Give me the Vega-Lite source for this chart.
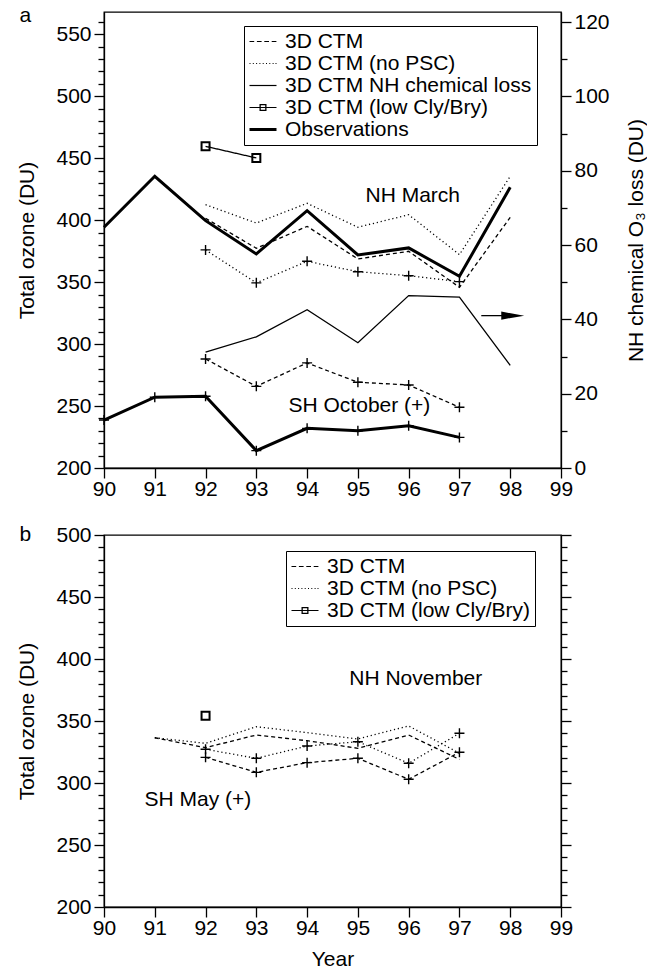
{
  "$schema": "https://vega.github.io/schema/vega-lite/v6.json",
  "padding": {"left": 16, "top": 4, "right": 0, "bottom": 0},
  "spacing": 23,
  "config": {
    "font": "Liberation Sans",
    "view": {"stroke": "black", "strokeWidth": 1.3},
    "axis": {"domainColor": "black", "domainWidth": 1.3, "tickColor": "black", "tickWidth": 1.3, "labelColor": "black", "labelFont": "Liberation Sans", "labelFontSize": 21, "titleFont": "Liberation Sans", "titleFontSize": 21, "titleFontWeight": "normal", "titleColor": "black", "grid": false, "labelPadding": 3, "tickSize": 10, "labelOverlap": false, "labelFlush": false},
    "legend": {"labelFont": "Liberation Sans", "labelFontSize": 21, "labelColor": "black", "labelLimit": 600, "strokeColor": "black", "fillColor": "white", "padding": 5, "rowPadding": 0, "labelOffset": 15, "symbolOpacity": 1, "symbolFillColor": "black", "symbolStrokeWidth": 0, "symbolSize": 400},
    "text": {"font": "Liberation Sans", "fontSize": 21, "color": "black"}
  },
  "datasets": {
    "topL": [
      {"year": 90, "value": 394.3, "series": "Observations", "region": "NH"},
      {"year": 91, "value": 435.4, "series": "Observations", "region": "NH"},
      {"year": 92, "value": 399.6, "series": "Observations", "region": "NH"},
      {"year": 93, "value": 372.7, "series": "Observations", "region": "NH"},
      {"year": 94, "value": 407.7, "series": "Observations", "region": "NH"},
      {"year": 95, "value": 371.9, "series": "Observations", "region": "NH"},
      {"year": 96, "value": 377.6, "series": "Observations", "region": "NH"},
      {"year": 97, "value": 354.7, "series": "Observations", "region": "NH"},
      {"year": 98, "value": 426.5, "series": "Observations", "region": "NH"},
      {"year": 92, "value": 401.5, "series": "3D CTM", "region": "NH"},
      {"year": 93, "value": 377.3, "series": "3D CTM", "region": "NH"},
      {"year": 94, "value": 395.0, "series": "3D CTM", "region": "NH"},
      {"year": 95, "value": 368.7, "series": "3D CTM", "region": "NH"},
      {"year": 96, "value": 374.9, "series": "3D CTM", "region": "NH"},
      {"year": 97, "value": 345.8, "series": "3D CTM", "region": "NH"},
      {"year": 98, "value": 402.3, "series": "3D CTM", "region": "NH"},
      {"year": 92, "value": 412.5, "series": "3D CTM (no PSC)", "region": "NH"},
      {"year": 93, "value": 397.7, "series": "3D CTM (no PSC)", "region": "NH"},
      {"year": 94, "value": 413.6, "series": "3D CTM (no PSC)", "region": "NH"},
      {"year": 95, "value": 394.3, "series": "3D CTM (no PSC)", "region": "NH"},
      {"year": 96, "value": 404.4, "series": "3D CTM (no PSC)", "region": "NH"},
      {"year": 97, "value": 372.2, "series": "3D CTM (no PSC)", "region": "NH"},
      {"year": 98, "value": 435.4, "series": "3D CTM (no PSC)", "region": "NH"},
      {"year": 92, "value": 459.6, "series": "3D CTM (low Cly/Bry)", "region": "NH"},
      {"year": 93, "value": 450.2, "series": "3D CTM (low Cly/Bry)", "region": "NH"},
      {"year": 90, "value": 238.7, "series": "Observations", "region": "SH"},
      {"year": 91, "value": 257.1, "series": "Observations", "region": "SH"},
      {"year": 92, "value": 257.9, "series": "Observations", "region": "SH"},
      {"year": 93, "value": 214.0, "series": "Observations", "region": "SH"},
      {"year": 94, "value": 232.0, "series": "Observations", "region": "SH"},
      {"year": 95, "value": 230.1, "series": "Observations", "region": "SH"},
      {"year": 96, "value": 234.1, "series": "Observations", "region": "SH"},
      {"year": 97, "value": 224.7, "series": "Observations", "region": "SH"},
      {"year": 92, "value": 288.0, "series": "3D CTM", "region": "SH"},
      {"year": 93, "value": 265.9, "series": "3D CTM", "region": "SH"},
      {"year": 94, "value": 284.8, "series": "3D CTM", "region": "SH"},
      {"year": 95, "value": 269.2, "series": "3D CTM", "region": "SH"},
      {"year": 96, "value": 267.0, "series": "3D CTM", "region": "SH"},
      {"year": 97, "value": 249.0, "series": "3D CTM", "region": "SH"},
      {"year": 92, "value": 376.0, "series": "3D CTM (no PSC)", "region": "SH"},
      {"year": 93, "value": 349.4, "series": "3D CTM (no PSC)", "region": "SH"},
      {"year": 94, "value": 366.8, "series": "3D CTM (no PSC)", "region": "SH"},
      {"year": 95, "value": 358.4, "series": "3D CTM (no PSC)", "region": "SH"},
      {"year": 96, "value": 355.2, "series": "3D CTM (no PSC)", "region": "SH"},
      {"year": 97, "value": 350.4, "series": "3D CTM (no PSC)", "region": "SH"}
    ],
    "topR": [
      {"year": 92, "loss": 31.2},
      {"year": 93, "loss": 35.3},
      {"year": 94, "loss": 42.6},
      {"year": 95, "loss": 33.7},
      {"year": 96, "loss": 46.4},
      {"year": 97, "loss": 46.0},
      {"year": 98, "loss": 27.6}
    ],
    "bottom": [
      {"year": 91, "value": 336.5, "series": "3D CTM (no PSC)", "region": "NH"},
      {"year": 92, "value": 332.0, "series": "3D CTM (no PSC)", "region": "NH"},
      {"year": 93, "value": 345.4, "series": "3D CTM (no PSC)", "region": "NH"},
      {"year": 94, "value": 340.6, "series": "3D CTM (no PSC)", "region": "NH"},
      {"year": 95, "value": 335.5, "series": "3D CTM (no PSC)", "region": "NH"},
      {"year": 96, "value": 346.0, "series": "3D CTM (no PSC)", "region": "NH"},
      {"year": 97, "value": 324.0, "series": "3D CTM (no PSC)", "region": "NH"},
      {"year": 91, "value": 336.5, "series": "3D CTM", "region": "NH"},
      {"year": 92, "value": 328.5, "series": "3D CTM", "region": "NH"},
      {"year": 93, "value": 338.7, "series": "3D CTM", "region": "NH"},
      {"year": 94, "value": 334.1, "series": "3D CTM", "region": "NH"},
      {"year": 95, "value": 328.0, "series": "3D CTM", "region": "NH"},
      {"year": 96, "value": 338.7, "series": "3D CTM", "region": "NH"},
      {"year": 97, "value": 319.0, "series": "3D CTM", "region": "NH"},
      {"year": 92, "value": 327.2, "series": "3D CTM (no PSC)", "region": "SH"},
      {"year": 93, "value": 319.9, "series": "3D CTM (no PSC)", "region": "SH"},
      {"year": 94, "value": 329.8, "series": "3D CTM (no PSC)", "region": "SH"},
      {"year": 95, "value": 333.3, "series": "3D CTM (no PSC)", "region": "SH"},
      {"year": 96, "value": 315.9, "series": "3D CTM (no PSC)", "region": "SH"},
      {"year": 97, "value": 340.1, "series": "3D CTM (no PSC)", "region": "SH"},
      {"year": 92, "value": 320.7, "series": "3D CTM", "region": "SH"},
      {"year": 93, "value": 308.6, "series": "3D CTM", "region": "SH"},
      {"year": 94, "value": 316.4, "series": "3D CTM", "region": "SH"},
      {"year": 95, "value": 319.9, "series": "3D CTM", "region": "SH"},
      {"year": 96, "value": 303.0, "series": "3D CTM", "region": "SH"},
      {"year": 97, "value": 324.8, "series": "3D CTM", "region": "SH"},
      {"year": 92, "value": 354.3, "series": "3D CTM (low Cly/Bry)", "region": "NH"}
    ]
  },
  "resolve": {"scale": {"shape": "independent", "strokeDash": "independent"}, "legend": {"shape": "independent"}},
  "vconcat": [
    {
      "width": 457,
      "height": 456,
      "resolve": {"scale": {"y": "independent"}},
      "layer": [
        {
          "layer": [
            {
              "data": {"name": "topL"},
              "encoding": {
                "x": {"field": "year", "type": "quantitative", "scale": {"domain": [90, 99], "nice": false, "zero": false}, "axis": {"values": [90, 91, 92, 93, 94, 95, 96, 97, 98, 99], "title": null, "tickSize": 10, "labelPadding": 0, "format": "d"}},
                "y": {"field": "value", "type": "quantitative", "scale": {"domain": [200, 568], "nice": false, "zero": false}, "axis": {"values": [200, 210, 220, 230, 240, 250, 260, 270, 280, 290, 300, 310, 320, 330, 340, 350, 360, 370, 380, 390, 400, 410, 420, 430, 440, 450, 460, 470, 480, 490, 500, 510, 520, 530, 540, 550, 560], "labelExpr": "datum.value % 50 === 0 ? datum.label : ''", "tickSize": {"condition": {"test": "datum.value % 50 === 0", "value": 10}, "value": 6}, "title": "Total ozone (DU)", "titlePadding": 18}}
              },
              "layer": [
                {
                  "mark": {"type": "point", "filled": true, "opacity": 0, "color": "black"},
                  "encoding": {
                    "shape": {
                      "field": "series", "type": "nominal",
                      "scale": {
                        "domain": ["3D CTM", "3D CTM (no PSC)", "3D CTM NH chemical loss", "3D CTM (low Cly/Bry)", "Observations"],
                        "range": [
                          "M-1,-0.06H-0.53V0.06H-1ZM-0.26,-0.06H0.21V0.06H-0.26ZM0.48,-0.06H0.95V0.06H0.48ZM1.22,-0.06H1.69V0.06H1.22Z",
                          "M-1,-0.06h0.1v0.12h-0.1ZM-0.67,-0.06h0.1v0.12h-0.1ZM-0.34,-0.06h0.1v0.12h-0.1ZM-0.01,-0.06h0.1v0.12h-0.1ZM0.32,-0.06h0.1v0.12h-0.1ZM0.65,-0.06h0.1v0.12h-0.1ZM0.98,-0.06h0.1v0.12h-0.1ZM1.31,-0.06h0.1v0.12h-0.1ZM1.6,-0.06h0.1v0.12h-0.1Z",
                          "M-1,-0.06H1.7V0.06H-1Z",
                          "M-1,-0.06H1.7V0.06H-1ZM0,-0.35H0.7V0.35H0ZM0.13,-0.22V0.22H0.57V-0.22Z",
                          "M-1,-0.15H1.7V0.15H-1Z"
                        ]
                      },
                      "legend": {"title": null, "orient": "none", "legendX": 140, "legendY": 14}
                    }
                  }
                },
                {
                  "transform": [{"filter": "datum.series !== 'Observations'"}],
                  "mark": {"type": "line", "color": "black", "strokeWidth": 1.3},
                  "encoding": {
                    "detail": {"field": "region"},
                    "strokeDash": {"field": "series", "type": "nominal", "scale": {"domain": ["3D CTM", "3D CTM (no PSC)", "3D CTM (low Cly/Bry)"], "range": [[4, 3], [1.2, 2.8], [1, 0]]}, "legend": null}
                  }
                },
                {
                  "transform": [{"filter": "datum.series === 'Observations'"}],
                  "mark": {"type": "line", "color": "black", "strokeWidth": 3},
                  "encoding": {"detail": {"field": "region"}}
                },
                {
                  "transform": [{"filter": "datum.region === 'SH'"}],
                  "mark": {"type": "point", "shape": "M-1,0H1M0,-1V1", "filled": false, "color": "black", "opacity": 1, "size": 100, "strokeWidth": 1.4}
                },
                {
                  "transform": [{"filter": "datum.series === '3D CTM (low Cly/Bry)'"}],
                  "mark": {"type": "point", "shape": "square", "filled": false, "color": "black", "opacity": 1, "size": 64, "strokeWidth": 2}
                }
              ]
            },
            {
              "data": {"values": [{}]},
              "mark": {"type": "text", "text": "NH March", "fontSize": 21},
              "encoding": {
                "x": {"datum": 96.08, "type": "quantitative", "scale": {"domain": [90, 99], "nice": false, "zero": false}, "axis": {"values": [90, 91, 92, 93, 94, 95, 96, 97, 98, 99], "title": null, "tickSize": 10, "labelPadding": 0, "format": "d"}},
                "y": {"datum": 419.3, "type": "quantitative", "scale": {"domain": [200, 568], "nice": false, "zero": false}, "axis": {"values": [200, 210, 220, 230, 240, 250, 260, 270, 280, 290, 300, 310, 320, 330, 340, 350, 360, 370, 380, 390, 400, 410, 420, 430, 440, 450, 460, 470, 480, 490, 500, 510, 520, 530, 540, 550, 560], "labelExpr": "datum.value % 50 === 0 ? datum.label : ''", "tickSize": {"condition": {"test": "datum.value % 50 === 0", "value": 10}, "value": 6}, "title": "Total ozone (DU)", "titlePadding": 18}}
              }
            },
            {
              "data": {"values": [{}]},
              "mark": {"type": "text", "text": "SH October (+)", "fontSize": 21},
              "encoding": {
                "x": {"datum": 95.03, "type": "quantitative", "scale": {"domain": [90, 99], "nice": false, "zero": false}, "axis": {"values": [90, 91, 92, 93, 94, 95, 96, 97, 98, 99], "title": null, "tickSize": 10, "labelPadding": 0, "format": "d"}},
                "y": {"datum": 250.3, "type": "quantitative", "scale": {"domain": [200, 568], "nice": false, "zero": false}, "axis": {"values": [200, 210, 220, 230, 240, 250, 260, 270, 280, 290, 300, 310, 320, 330, 340, 350, 360, 370, 380, 390, 400, 410, 420, 430, 440, 450, 460, 470, 480, 490, 500, 510, 520, 530, 540, 550, 560], "labelExpr": "datum.value % 50 === 0 ? datum.label : ''", "tickSize": {"condition": {"test": "datum.value % 50 === 0", "value": 10}, "value": 6}, "title": "Total ozone (DU)", "titlePadding": 18}}
              }
            },
            {
              "data": {"values": [{}]},
              "mark": {"type": "text", "text": "a", "fontSize": 21},
              "encoding": {
                "x": {"datum": 88.45, "type": "quantitative", "scale": {"domain": [90, 99], "nice": false, "zero": false}, "axis": {"values": [90, 91, 92, 93, 94, 95, 96, 97, 98, 99], "title": null, "tickSize": 10, "labelPadding": 0, "format": "d"}},
                "y": {"datum": 565, "type": "quantitative", "scale": {"domain": [200, 568], "nice": false, "zero": false}, "axis": {"values": [200, 210, 220, 230, 240, 250, 260, 270, 280, 290, 300, 310, 320, 330, 340, 350, 360, 370, 380, 390, 400, 410, 420, 430, 440, 450, 460, 470, 480, 490, 500, 510, 520, 530, 540, 550, 560], "labelExpr": "datum.value % 50 === 0 ? datum.label : ''", "tickSize": {"condition": {"test": "datum.value % 50 === 0", "value": 10}, "value": 6}, "title": "Total ozone (DU)", "titlePadding": 18}}
              }
            }
          ]
        },
        {
          "layer": [
            {
              "data": {"name": "topR"},
              "mark": {"type": "line", "color": "black", "strokeWidth": 1.3},
              "encoding": {
                "x": {"field": "year", "type": "quantitative", "scale": {"domain": [90, 99], "nice": false, "zero": false}, "axis": {"values": [90, 91, 92, 93, 94, 95, 96, 97, 98, 99], "title": null, "tickSize": 10, "labelPadding": 0, "format": "d"}},
                "y": {"field": "loss", "type": "quantitative", "scale": {"domain": [0, 122.7], "nice": false, "zero": false}, "axis": {"orient": "right", "values": [0, 10, 20, 30, 40, 50, 60, 70, 80, 90, 100, 110, 120], "labelExpr": "datum.value % 20 === 0 ? datum.label : ''", "tickSize": {"condition": {"test": "datum.value % 20 === 0", "value": 10}, "value": 6}, "title": "NH chemical O₃ loss (DU)", "titleAngle": 270, "titleBaseline": "top", "titlePadding": 16}}
              }
            },
            {
              "data": {"values": [{}]},
              "mark": {"type": "rule", "color": "black", "strokeWidth": 1.3},
              "encoding": {
                "x": {"datum": 97.43, "type": "quantitative", "scale": {"domain": [90, 99], "nice": false, "zero": false}, "axis": {"values": [90, 91, 92, 93, 94, 95, 96, 97, 98, 99], "title": null, "tickSize": 10, "labelPadding": 0, "format": "d"}},
                "x2": {"datum": 98.0},
                "y": {"datum": 41, "type": "quantitative", "scale": {"domain": [0, 122.7], "nice": false, "zero": false}, "axis": {"orient": "right", "values": [0, 10, 20, 30, 40, 50, 60, 70, 80, 90, 100, 110, 120], "labelExpr": "datum.value % 20 === 0 ? datum.label : ''", "tickSize": {"condition": {"test": "datum.value % 20 === 0", "value": 10}, "value": 6}, "title": "NH chemical O₃ loss (DU)", "titleAngle": 270, "titleBaseline": "top", "titlePadding": 16}}
              }
            },
            {
              "data": {"values": [{}]},
              "mark": {"type": "point", "shape": "M-1,-0.35L1,0L-1,0.35Z", "filled": true, "color": "black", "opacity": 1, "size": 529},
              "encoding": {
                "x": {"datum": 98.05, "type": "quantitative", "scale": {"domain": [90, 99], "nice": false, "zero": false}, "axis": {"values": [90, 91, 92, 93, 94, 95, 96, 97, 98, 99], "title": null, "tickSize": 10, "labelPadding": 0, "format": "d"}},
                "y": {"datum": 41, "type": "quantitative", "scale": {"domain": [0, 122.7], "nice": false, "zero": false}, "axis": {"orient": "right", "values": [0, 10, 20, 30, 40, 50, 60, 70, 80, 90, 100, 110, 120], "labelExpr": "datum.value % 20 === 0 ? datum.label : ''", "tickSize": {"condition": {"test": "datum.value % 20 === 0", "value": 10}, "value": 6}, "title": "NH chemical O₃ loss (DU)", "titleAngle": 270, "titleBaseline": "top", "titlePadding": 16}}
              }
            }
          ]
        }
      ]
    },
    {
      "width": 457,
      "height": 372,
      "resolve": {"scale": {"y": "independent"}},
      "layer": [
        {
          "layer": [
            {
              "data": {"name": "bottom"},
              "encoding": {
                "x": {"field": "year", "type": "quantitative", "scale": {"domain": [90, 99], "nice": false, "zero": false}, "axis": {"values": [90, 91, 92, 93, 94, 95, 96, 97, 98, 99], "title": "Year", "tickSize": 10, "labelPadding": 0, "format": "d", "titlePadding": 10}},
                "y": {"field": "value", "type": "quantitative", "scale": {"domain": [200, 500], "nice": false, "zero": false}, "axis": {"values": [200, 210, 220, 230, 240, 250, 260, 270, 280, 290, 300, 310, 320, 330, 340, 350, 360, 370, 380, 390, 400, 410, 420, 430, 440, 450, 460, 470, 480, 490, 500], "labelExpr": "datum.value % 50 === 0 ? datum.label : ''", "tickSize": {"condition": {"test": "datum.value % 50 === 0", "value": 10}, "value": 6}, "title": "Total ozone (DU)", "titlePadding": 18}}
              },
              "layer": [
                {
                  "mark": {"type": "point", "filled": true, "opacity": 0, "color": "black"},
                  "encoding": {
                    "shape": {
                      "field": "series", "type": "nominal",
                      "scale": {
                        "domain": ["3D CTM", "3D CTM (no PSC)", "3D CTM (low Cly/Bry)"],
                        "range": [
                          "M-1,-0.06H-0.53V0.06H-1ZM-0.26,-0.06H0.21V0.06H-0.26ZM0.48,-0.06H0.95V0.06H0.48ZM1.22,-0.06H1.69V0.06H1.22Z",
                          "M-1,-0.06h0.1v0.12h-0.1ZM-0.67,-0.06h0.1v0.12h-0.1ZM-0.34,-0.06h0.1v0.12h-0.1ZM-0.01,-0.06h0.1v0.12h-0.1ZM0.32,-0.06h0.1v0.12h-0.1ZM0.65,-0.06h0.1v0.12h-0.1ZM0.98,-0.06h0.1v0.12h-0.1ZM1.31,-0.06h0.1v0.12h-0.1ZM1.6,-0.06h0.1v0.12h-0.1Z",
                          "M-1,-0.06H1.7V0.06H-1ZM0,-0.35H0.7V0.35H0ZM0.13,-0.22V0.22H0.57V-0.22Z"
                        ]
                      },
                      "legend": {"title": null, "orient": "none", "legendX": 182, "legendY": 16}
                    }
                  }
                },
                {
                  "transform": [{"filter": "datum.series !== '3D CTM (low Cly/Bry)'"}],
                  "mark": {"type": "line", "color": "black", "strokeWidth": 1.3},
                  "encoding": {
                    "detail": {"field": "region"},
                    "strokeDash": {"field": "series", "type": "nominal", "scale": {"domain": ["3D CTM", "3D CTM (no PSC)"], "range": [[4, 3], [1.2, 2.8]]}, "legend": null}
                  }
                },
                {
                  "transform": [{"filter": "datum.region === 'SH'"}],
                  "mark": {"type": "point", "shape": "M-1,0H1M0,-1V1", "filled": false, "color": "black", "opacity": 1, "size": 100, "strokeWidth": 1.4}
                },
                {
                  "transform": [{"filter": "datum.series === '3D CTM (low Cly/Bry)'"}],
                  "mark": {"type": "point", "shape": "square", "filled": false, "color": "black", "opacity": 1, "size": 64, "strokeWidth": 2}
                }
              ]
            },
            {
              "data": {"values": [{}]},
              "mark": {"type": "text", "text": "NH November", "fontSize": 21},
              "encoding": {
                "x": {"datum": 96.14, "type": "quantitative", "scale": {"domain": [90, 99], "nice": false, "zero": false}, "axis": {"values": [90, 91, 92, 93, 94, 95, 96, 97, 98, 99], "title": "Year", "tickSize": 10, "labelPadding": 0, "format": "d", "titlePadding": 10}},
                "y": {"datum": 383.6, "type": "quantitative", "scale": {"domain": [200, 500], "nice": false, "zero": false}, "axis": {"values": [200, 210, 220, 230, 240, 250, 260, 270, 280, 290, 300, 310, 320, 330, 340, 350, 360, 370, 380, 390, 400, 410, 420, 430, 440, 450, 460, 470, 480, 490, 500], "labelExpr": "datum.value % 50 === 0 ? datum.label : ''", "tickSize": {"condition": {"test": "datum.value % 50 === 0", "value": 10}, "value": 6}, "title": "Total ozone (DU)", "titlePadding": 18}}
              }
            },
            {
              "data": {"values": [{}]},
              "mark": {"type": "text", "text": "SH May (+)", "fontSize": 21},
              "encoding": {
                "x": {"datum": 91.85, "type": "quantitative", "scale": {"domain": [90, 99], "nice": false, "zero": false}, "axis": {"values": [90, 91, 92, 93, 94, 95, 96, 97, 98, 99], "title": "Year", "tickSize": 10, "labelPadding": 0, "format": "d", "titlePadding": 10}},
                "y": {"datum": 286.3, "type": "quantitative", "scale": {"domain": [200, 500], "nice": false, "zero": false}, "axis": {"values": [200, 210, 220, 230, 240, 250, 260, 270, 280, 290, 300, 310, 320, 330, 340, 350, 360, 370, 380, 390, 400, 410, 420, 430, 440, 450, 460, 470, 480, 490, 500], "labelExpr": "datum.value % 50 === 0 ? datum.label : ''", "tickSize": {"condition": {"test": "datum.value % 50 === 0", "value": 10}, "value": 6}, "title": "Total ozone (DU)", "titlePadding": 18}}
              }
            },
            {
              "data": {"values": [{}]},
              "mark": {"type": "text", "text": "b", "fontSize": 21},
              "encoding": {
                "x": {"datum": 88.45, "type": "quantitative", "scale": {"domain": [90, 99], "nice": false, "zero": false}, "axis": {"values": [90, 91, 92, 93, 94, 95, 96, 97, 98, 99], "title": "Year", "tickSize": 10, "labelPadding": 0, "format": "d", "titlePadding": 10}},
                "y": {"datum": 500, "type": "quantitative", "scale": {"domain": [200, 500], "nice": false, "zero": false}, "axis": {"values": [200, 210, 220, 230, 240, 250, 260, 270, 280, 290, 300, 310, 320, 330, 340, 350, 360, 370, 380, 390, 400, 410, 420, 430, 440, 450, 460, 470, 480, 490, 500], "labelExpr": "datum.value % 50 === 0 ? datum.label : ''", "tickSize": {"condition": {"test": "datum.value % 50 === 0", "value": 10}, "value": 6}, "title": "Total ozone (DU)", "titlePadding": 18}}
              }
            }
          ]
        },
        {
          "data": {"name": "bottom"},
          "mark": {"type": "point", "opacity": 0},
          "encoding": {
            "x": {"field": "year", "type": "quantitative", "scale": {"domain": [90, 99], "nice": false, "zero": false}, "axis": {"values": [90, 91, 92, 93, 94, 95, 96, 97, 98, 99], "title": "Year", "tickSize": 10, "labelPadding": 0, "format": "d", "titlePadding": 10}},
            "y": {"field": "value", "type": "quantitative", "scale": {"domain": [200, 500], "nice": false, "zero": false}, "axis": {"orient": "right", "values": [200, 210, 220, 230, 240, 250, 260, 270, 280, 290, 300, 310, 320, 330, 340, 350, 360, 370, 380, 390, 400, 410, 420, 430, 440, 450, 460, 470, 480, 490, 500], "labels": false, "tickSize": {"condition": {"test": "datum.value % 50 === 0", "value": 10}, "value": 6}, "title": null}}
          }
        }
      ]
    }
  ]
}
